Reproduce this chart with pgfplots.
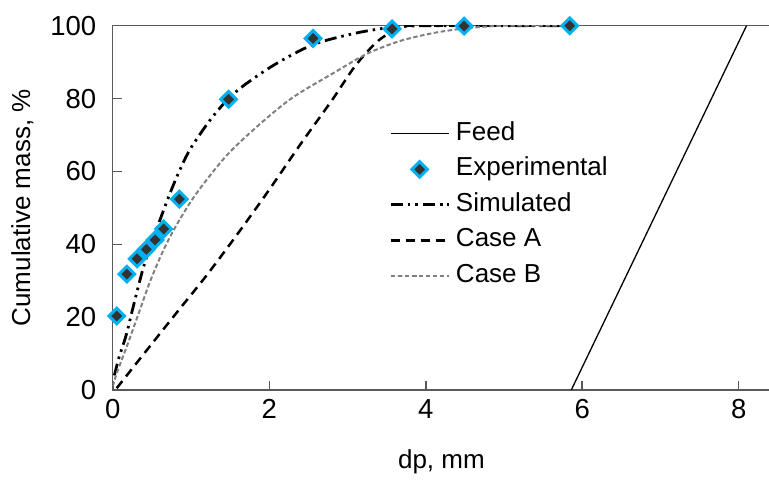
\documentclass[border=0pt]{standalone}
\usepackage{fontspec}
\setmainfont{Liberation Sans}
\usepackage{pgfplots}
\pgfplotsset{compat=1.18}
\definecolor{expcyan}{RGB}{0,176,240}
\definecolor{axgray}{RGB}{89,89,89}
\definecolor{caseb}{RGB}{128,128,128}
\begin{document}
\begin{tikzpicture}
\begin{axis}[
  scale only axis, width=657.2pt, height=364.3pt,
  xmin=0, xmax=8.4, ymin=0, ymax=100,
  xtick={0,2,4,6,8}, ytick={0,20,...,100},
  tick align=inside, xtick pos=left, ytick pos=left,
  major tick length=9pt,
  axis line style={axgray, line width=1.2pt},
  xtick style={axgray, line width=1.5pt},
  ytick style={axgray, line width=1.5pt},
  /pgf/number format/assume math mode=true,
  ticklabel style={font=\fontsize{27.5}{32}\selectfont},
  yticklabel style={xshift=-13pt},
  xticklabel style={yshift=-6pt},
  label style={font=\fontsize{26}{31}\selectfont},
  xlabel={dp, mm}, ylabel={Cumulative mass, \%},
  xlabel style={yshift=-24pt},
  ylabel style={yshift=10pt},
  legend style={draw=none, fill=none, font=\fontsize{26}{31}\selectfont,
    at={(axis cs:3.53,73.8)}, anchor=north west, inner sep=0pt,
    column sep=6pt, row sep=10.5pt,
    nodes={inner sep=0pt, text height=19pt, text depth=6pt}},
  legend cell align=left,
  legend image code/.code={\draw[mark repeat=2,mark phase=2,#1] plot coordinates {(0pt,0pt)(29pt,0pt)(58pt,0pt)};},
]
\addplot[black, line width=1.3pt] coordinates {(5.86,0) (8.1,100)};
\addlegendentry{Feed}
\addlegendimage{only marks, mark=square*, mark size=5.5pt, mark options={rotate=45, draw=expcyan, fill=black!80, line width=3pt}}
\addlegendentry{Experimental}
\addplot[black, line width=2.8pt, smooth, dash pattern=on 12pt off 5pt on 2.5pt off 5pt on 2.5pt off 5pt] coordinates {
 (0.02,4) (0.08,9) (0.17,15) (0.28,24.5) (0.41,35) (0.6,46.5) (0.75,55) (0.88,61.5) (1.0,66.5) (1.24,74) (1.47,79.8) (1.7,84) (2.09,89.6) (2.56,94.8) (3.07,97.8) (3.54,99.5) (4.0,100) (5.86,100)};
\addlegendentry{Simulated}
\addplot[black, line width=2.5pt, smooth, dash pattern=on 9pt off 6pt] coordinates {
 (0.05,0.5) (0.4,10) (0.8,20.8) (1.2,31.5) (1.6,43) (2.0,55) (2.4,67.5) (2.8,79.5) (3.1,89) (3.4,96) (3.7,99.6) (4.0,100) (5.86,100)};
\addlegendentry{Case A}
\addplot[caseb, line width=2pt, smooth, dash pattern=on 4.5pt off 2.5pt] coordinates {
 (0.0,1) (0.05,4.6) (0.18,12) (0.33,21) (0.48,30) (0.65,38.5) (0.82,45.5) (1.07,54) (1.46,64.5) (1.88,73) (2.3,80.3) (2.82,87) (3.25,92.3) (3.67,95.8) (4.1,98) (4.52,99.3) (5.0,100) (5.86,100)};
\addlegendentry{Case B}
\addplot[forget plot, only marks, mark=square*, mark size=5.5pt, mark options={rotate=45, draw=expcyan, fill=black!80, line width=3pt}] coordinates {
 (0.05,20.3) (0.18,31.8) (0.31,36) (0.43,38.6) (0.54,41.2) (0.65,44.2) (0.85,52.4) (1.48,79.8) (2.56,96.5) (3.57,99.1) (4.49,99.9) (5.84,100)};
\end{axis}
\pgfresetboundingbox
\path ([xshift=-112.8pt,yshift=-90pt]current axis.south west) rectangle ++(769pt,480pt);
\end{tikzpicture}
\end{document}
